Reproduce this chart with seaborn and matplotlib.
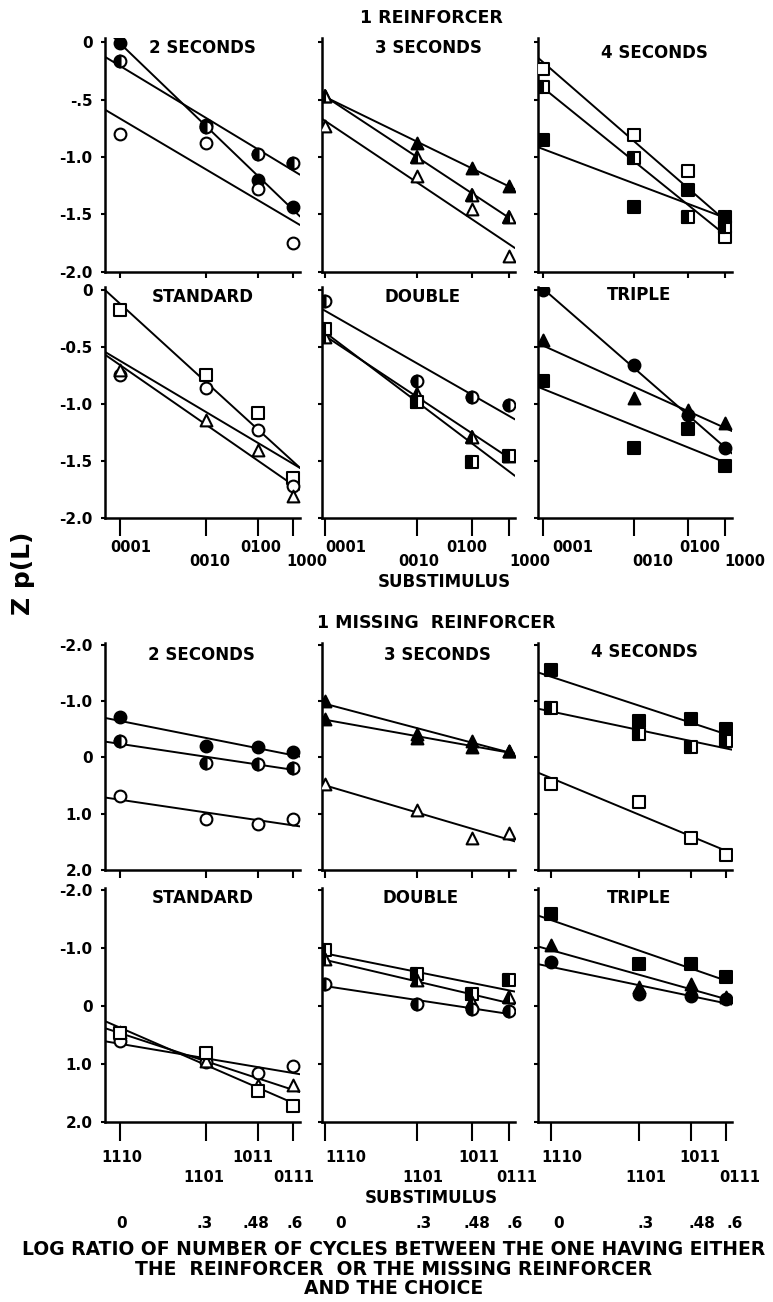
import matplotlib

matplotlib.use("Agg")
import matplotlib.pyplot as plt
import seaborn as sns
from matplotlib.markers import MarkerStyle

# x = log ratio of number of cycles (shared by all panels)
x_log = [0.0, 0.3, 0.48, 0.6]
reinf_codes = ["0001", "0010", "0100", "1000"]
missing_codes = ["1110", "1101", "1011", "0111"]
log_labels = ["0", ".3", ".48", ".6"]

# ---- 1 REINFORCER, Z p(L) ----
r_2s_full = [-0.01, -0.72, -1.20, -1.44]
r_2s_half = [-0.16, -0.74, -0.97, -1.05]
r_2s_open = [-0.80, -0.88, -1.28, -1.75]

r_3s_full = [-0.47, -0.88, -1.10, -1.25]
r_3s_half = [-0.47, -1.00, -1.33, -1.52]
r_3s_open = [-0.73, -1.17, -1.45, -1.86]

r_4s_open = [-0.23, -0.81, -1.12, -1.70]
r_4s_half = [-0.39, -1.01, -1.52, -1.61]
r_4s_full = [-0.85, -1.44, -1.29, -1.52]

r_std_square = [-0.18, -0.75, -1.08, -1.65]
r_std_circle = [-0.75, -0.86, -1.23, -1.72]
r_std_triangle = [-0.70, -1.14, -1.40, -1.81]

r_dbl_circle = [-0.10, -0.80, -0.94, -1.01]
r_dbl_triangle = [-0.41, -0.91, -1.29, -1.46]
r_dbl_square = [-0.34, -0.98, -1.51, -1.46]

r_tri_circle = [0.00, -0.66, -1.10, -1.39]
r_tri_triangle = [-0.44, -0.95, -1.05, -1.17]
r_tri_square = [-0.80, -1.39, -1.22, -1.54]

# ---- 1 MISSING REINFORCER, Z p(L) ----
m_2s_full = [-0.72, -0.20, -0.18, -0.10]
m_2s_half = [-0.29, 0.09, 0.11, 0.18]
m_2s_open = [0.68, 1.09, 1.19, 1.09]

m_3s_full = [-1.00, -0.42, -0.29, -0.12]
m_3s_half = [-0.69, -0.35, -0.18, -0.12]
m_3s_open = [0.48, 0.94, 1.44, 1.34]

m_4s_full = [-1.56, -0.65, -0.68, -0.50]
m_4s_half = [-0.88, -0.41, -0.18, -0.29]
m_4s_open = [0.47, 0.79, 1.44, 1.74]

m_std_circle = [0.60, 0.97, 1.16, 1.04]
m_std_triangle = [0.45, 0.95, 1.36, 1.36]
m_std_square = [0.47, 0.81, 1.47, 1.73]

m_dbl_square = [-0.96, -0.55, -0.20, -0.44]
m_dbl_triangle = [-0.81, -0.44, -0.06, -0.15]
m_dbl_circle = [-0.38, -0.03, 0.06, 0.09]

m_tri_square = [-1.58, -0.72, -0.72, -0.49]
m_tri_triangle = [-1.05, -0.32, -0.38, -0.15]
m_tri_circle = [-0.75, -0.20, -0.17, -0.12]

# panel rows: (title, [(values, marker, fill)])
panel_rows = [
    [
        ("2 SECONDS", [(r_2s_full, "o", "full"), (r_2s_half, "o", "half"), (r_2s_open, "o", "open")]),
        ("3 SECONDS", [(r_3s_full, "^", "full"), (r_3s_half, "^", "half"), (r_3s_open, "^", "open")]),
        ("4 SECONDS", [(r_4s_open, "s", "open"), (r_4s_half, "s", "half"), (r_4s_full, "s", "full")]),
    ],
    [
        ("STANDARD", [(r_std_square, "s", "open"), (r_std_circle, "o", "open"), (r_std_triangle, "^", "open")]),
        ("DOUBLE", [(r_dbl_circle, "o", "half"), (r_dbl_triangle, "^", "half"), (r_dbl_square, "s", "half")]),
        ("TRIPLE", [(r_tri_circle, "o", "full"), (r_tri_triangle, "^", "full"), (r_tri_square, "s", "full")]),
    ],
    [
        ("2 SECONDS", [(m_2s_full, "o", "full"), (m_2s_half, "o", "half"), (m_2s_open, "o", "open")]),
        ("3 SECONDS", [(m_3s_full, "^", "full"), (m_3s_half, "^", "full"), (m_3s_open, "^", "open")]),
        ("4 SECONDS", [(m_4s_full, "s", "full"), (m_4s_half, "s", "half"), (m_4s_open, "s", "open")]),
    ],
    [
        ("STANDARD", [(m_std_circle, "o", "open"), (m_std_triangle, "^", "open"), (m_std_square, "s", "open")]),
        ("DOUBLE", [(m_dbl_square, "s", "half"), (m_dbl_triangle, "^", "half"), (m_dbl_circle, "o", "half")]),
        ("TRIPLE", [(m_tri_square, "s", "full"), (m_tri_triangle, "^", "full"), (m_tri_circle, "o", "full")]),
    ],
]

# ---- layout (pixels of the 773x1302 canvas) ----
FIG_W, FIG_H = 773, 1302
COLS_PX = [(105, 300), (322, 515), (538, 732)]
ROWS_PX = [(38, 272), (287, 518), (643, 870), (888, 1122)]
XLIMS = [
    [(-0.052, 0.625), (-0.01, 0.62), (-0.0165, 0.624)],
    [(-0.052, 0.625), (-0.01, 0.62), (-0.0165, 0.624)],
    [(-0.052, 0.625), (-0.01, 0.62), (-0.045, 0.62)],
    [(-0.052, 0.625), (-0.01, 0.62), (-0.045, 0.62)],
]
YLIMS = [(-2.003, 0.037), (-2.0, 0.026), (2.0, -2.035), (2.0, -2.03)]
YTICKS = [[0, -0.5, -1.0, -1.5, -2.0], [0, -0.5, -1.0, -1.5, -2.0],
          [-2.0, -1.0, 0, 1.0, 2.0], [-2.0, -1.0, 0, 1.0, 2.0]]
YTICKLABELS = [["0", "-.5", "-1.0", "-1.5", "-2.0"], ["0", "-0.5", "-1.0", "-1.5", "-2.0"],
               ["-2.0", "-1.0", "0", "1.0", "2.0"], ["-2.0", "-1.0", "0", "1.0", "2.0"]]
XTICK_LEN = [4.5, 13, 6, 14]
TITLE_POS = [
    [(0.50, 0.957), (0.55, 0.957), (0.60, 0.935)],
    [(0.50, 0.957), (0.52, 0.957), (0.52, 0.965)],
    [(0.495, 0.947), (0.60, 0.947), (0.55, 0.96)],
    [(0.50, 0.957), (0.51, 0.957), (0.52, 0.957)],
]
# substimulus code labels: vertical offsets (px below spine) high / low, horizontal nudges per column
CODE_DY = {1: (30, 44), 3: (36, 55)}
CODE_DX = {
    1: [[11, 3, 3, 14], [21, 2, -5, 21], [30, 19, 11, 20]],
    3: [[2, -3, -5, 1], [21, 6, 7, 8], [11, 7, 9, 14]],
}
NUM_DY = 101
NUM_DX = [[2, -2, -2, 2], [15, 7, 5, 6], [7, 7, 11, 9]]

MS = 72
EW = 1.5
LW = 1.4
PX2PT = 0.72

sns.set_style("ticks", rc={"axes.edgecolor": "black", "text.color": "black",
                           "xtick.color": "black", "ytick.color": "black",
                           "axes.labelcolor": "black"})
plt.rcParams["font.family"] = ["DejaVu Sans"]
plt.rcParams["font.weight"] = "bold"


def draw_series(ax, xlim, vals, marker, fill):
    ax.set_xlim(*xlim)
    sns.regplot(x=x_log, y=vals, ax=ax, scatter=False, ci=None, truncate=False,
                color="black", line_kws={"lw": LW, "zorder": 2})
    face = "black" if fill == "full" else "white"
    sns.scatterplot(x=x_log, y=vals, ax=ax, marker=marker, s=MS, facecolor=face,
                    edgecolor="black", linewidth=EW, zorder=3, legend=False)
    if fill == "half":
        sns.scatterplot(x=x_log, y=vals, ax=ax, marker=MarkerStyle(marker, fillstyle="left"),
                        s=MS, facecolor="black", edgecolor="black", linewidth=EW,
                        zorder=4, legend=False)


def under_label(ax, x, text, dx_px, dy_px, size):
    ax.annotate(text, xy=(x, 0), xycoords=("data", "axes fraction"),
                xytext=(dx_px * PX2PT, -dy_px * PX2PT), textcoords="offset points",
                ha="center", va="center", fontsize=size, fontweight="bold",
                annotation_clip=False)


def main() -> None:
    fig = plt.figure(figsize=(FIG_W / 100, FIG_H / 100), dpi=100)

    for r, row in enumerate(panel_rows):
        top, bot = ROWS_PX[r]
        for c, (title, series) in enumerate(row):
            left, right = COLS_PX[c]
            ax = fig.add_axes([left / FIG_W, 1 - bot / FIG_H, (right - left) / FIG_W, (bot - top) / FIG_H])
            for vals, marker, fill in series:
                draw_series(ax, XLIMS[r][c], vals, marker, fill)
            ax.set_xlim(*XLIMS[r][c])
            ax.set_ylim(*YLIMS[r])
            sns.despine(ax=ax)
            for side in ("left", "bottom"):
                ax.spines[side].set_linewidth(1.8)
            ax.set_yticks(YTICKS[r])
            if c == 0:
                ax.set_yticklabels(YTICKLABELS[r], fontsize=11, fontweight="bold")
            else:
                ax.set_yticklabels([])
            ax.tick_params(axis="y", direction="out", length=3, width=1.5, pad=6)
            ax.set_xticks(x_log)
            ax.set_xticklabels([])
            ax.tick_params(axis="x", direction="out", length=XTICK_LEN[r], width=1.5)
            if r in CODE_DY:
                codes = reinf_codes if r == 1 else missing_codes
                hi, lo = CODE_DY[r]
                for i, (xv, code) in enumerate(zip(x_log, codes)):
                    under_label(ax, xv, code, CODE_DX[r][c][i], hi if i % 2 == 0 else lo, 10.5)
            if r == 3:
                for i, (xv, lab) in enumerate(zip(x_log, log_labels)):
                    under_label(ax, xv, lab, NUM_DX[c][i], NUM_DY, 11)
            ax.set_xlabel("")
            ax.set_ylabel("")
            tx, ty = TITLE_POS[r][c]
            ax.text(tx, ty, title, transform=ax.transAxes, ha="center", va="center",
                    fontsize=12, fontweight="bold")

    fig.text(431 / FIG_W, 1 - 18 / FIG_H, "1 REINFORCER", ha="center", va="center",
             fontsize=12.5, fontweight="bold")
    fig.text(436 / FIG_W, 1 - 623 / FIG_H, "1 MISSING  REINFORCER", ha="center", va="center",
             fontsize=12.5, fontweight="bold")
    fig.text(444 / FIG_W, 1 - 582 / FIG_H, "SUBSTIMULUS", ha="center", va="center",
             fontsize=12, fontweight="bold")
    fig.text(431 / FIG_W, 1 - 1198 / FIG_H, "SUBSTIMULUS", ha="center", va="center",
             fontsize=12, fontweight="bold")
    fig.text(23 / FIG_W, 1 - 573 / FIG_H, "Z p(L)", rotation=90, ha="center", va="center",
             fontsize=18, fontweight="bold")
    fig.text(394 / FIG_W, 1 - 1240 / FIG_H,
             "LOG RATIO OF NUMBER OF CYCLES BETWEEN THE ONE HAVING EITHER\n"
             "THE  REINFORCER  OR THE MISSING REINFORCER\nAND THE CHOICE",
             ha="center", va="top", fontsize=13.5, fontweight="bold", linespacing=1.05)

    fig.savefig("out.png", dpi=100)
    plt.close(fig)


if __name__ == "__main__":
    main()
